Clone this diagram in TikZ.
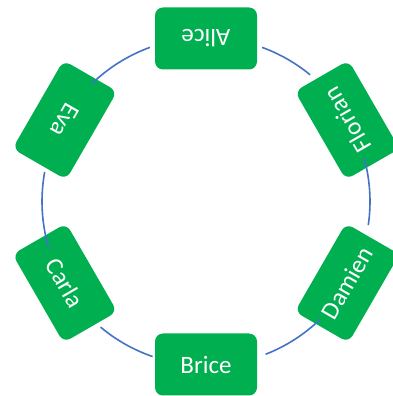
\documentclass[tikz,border=0pt]{standalone}
\usepackage{fontspec}
\setmainfont{Carlito}
\usetikzlibrary{calc}
\definecolor{boxgreen}{HTML}{00B050}
\definecolor{ringblue}{HTML}{4472C4}
\begin{document}
\begin{tikzpicture}[x=1pt,y=1pt,
  person/.style={draw=none, fill=boxgreen, rounded corners=8pt, minimum width=102pt, minimum height=62pt, text=white, font=\fontsize{25}{30}\selectfont, inner sep=0pt},
  ring/.style={draw=ringblue, line width=1.6pt}]
\useasboundingbox (0,0) rectangle (393,396);
\coordinate (c) at (206,194.5);
\foreach \nm/\ang in {Alice/90, Florian/30, Damien/-30, Brice/-90, Carla/210, Eva/150}
  \node[person, rotate=\ang+90] (\nm) at ($(c)+(\ang:163pt)$) {\nm};
\foreach \sa/\ea in {70/50.6, 15.6/-8.3, -46/-68.7, -109/-130, 196.4/169.6, 133.9/110}
  \draw[ring] ($(c)+(\sa:164pt)$) arc[start angle=\sa, end angle=\ea, radius=164pt];
\end{tikzpicture}
\end{document}
